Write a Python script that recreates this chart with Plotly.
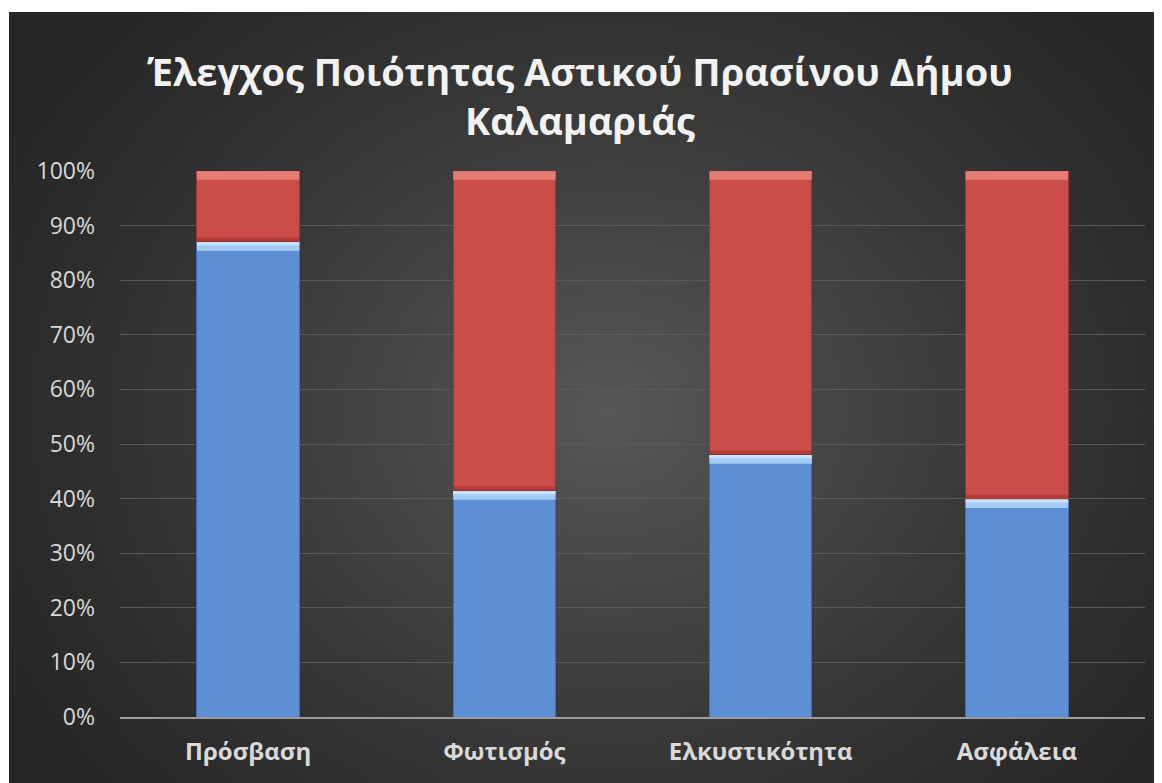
import base64, zlib, struct
import numpy as np
import plotly.graph_objects as go

categories = ["Πρόσβαση", "Φωτισμός", "Ελκυστικότητα", "Ασφάλεια"]
blue_values = [87.0, 41.4, 48.0, 39.9]
red_values = [13.0, 58.6, 52.0, 60.1]
tick_vals = [0, 10, 20, 30, 40, 50, 60, 70, 80, 90, 100]
tick_text = ["0%", "10%", "20%", "30%", "40%", "50%", "60%", "70%", "80%", "90%", "100%"]
title_text = "Έλεγχος Ποιότητας Αστικού Πρασίνου Δήμου<br>Καλαμαριάς"

# page body has an 8px margin, so the figure is 8px smaller than the window
W, H = 1154, 775
L, R, T, B = 112, 17, 163, 66
pw, ph = W - L - R, H - T - B
DX, DY = 1, 4  # top-left of dark panel in figure px


def png_data_uri(arr):
    h, w, _ = arr.shape
    raw = b"".join(b"\x00" + arr[i].tobytes() for i in range(h))
    def chunk(tag, data):
        c = struct.pack(">I", len(data)) + tag + data
        return c + struct.pack(">I", zlib.crc32(tag + data) & 0xffffffff)
    png = b"\x89PNG\r\n\x1a\n" + chunk(b"IHDR", struct.pack(">IIBBBBB", w, h, 8, 2, 0, 0, 0))
    png += chunk(b"IDAT", zlib.compress(raw, 9)) + chunk(b"IEND", b"")
    return "data:image/png;base64," + base64.b64encode(png).decode()


gw, gh = 290, 192
yy, xx = np.mgrid[0:gh, 0:gw]
dx = (xx / (gw - 1) - 0.52) / 0.62
dy = (yy / (gh - 1) - 0.52) / 0.78
r = np.clip(np.sqrt(dx ** 2 + dy ** 2), 0, 1)
val = 38 + (88 - 38) * (1 - r) ** 1.25
bg = np.repeat(val[:, :, None], 3, axis=2).astype(np.uint8)
bg_uri = png_data_uri(bg)

fig = go.Figure()
fig.add_trace(go.Bar(x=categories, y=blue_values, name="Ναι",
                     marker=dict(color="#5e8fd4", line=dict(color="#3d6cb0", width=1))))
fig.add_trace(go.Bar(x=categories, y=red_values, name="Όχι",
                     marker=dict(color="#ca4d4a", line=dict(color="#9e3431", width=1))))

# bevel highlights computed from the data
bw = 0.4
shapes = []
for i, (b, rv) in enumerate(zip(blue_values, red_values)):
    x0, x1 = i - bw / 2, i + bw / 2
    top = b + rv
    shapes.append(dict(type="rect", xref="x", yref="y", x0=x0, x1=x1, y0=b - 1.6, y1=b,
                       fillcolor="rgba(175,215,250,0.85)", line=dict(width=0), layer="above"))
    shapes.append(dict(type="rect", xref="x", yref="y", x0=x0, x1=x1, y0=b - 0.6, y1=b,
                       fillcolor="rgba(200,230,255,0.9)", line=dict(width=0), layer="above"))
    shapes.append(dict(type="rect", xref="x", yref="y", x0=x0, x1=x1, y0=top - 1.6, y1=top,
                       fillcolor="rgba(240,140,135,0.75)", line=dict(width=0), layer="above"))
    shapes.append(dict(type="rect", xref="x", yref="y", x0=x0, x1=x1, y0=b, y1=b + 0.8,
                       fillcolor="rgba(120,20,20,0.3)", line=dict(width=0), layer="above"))

fig.update_layout(
    width=W, height=H,
    margin=dict(l=L, r=R, t=T, b=B, pad=0),
    paper_bgcolor="white",
    plot_bgcolor="rgba(0,0,0,0)",
    barmode="stack",
    bargap=0.6,
    showlegend=False,
    shapes=shapes,
    images=[dict(source=bg_uri, xref="paper", yref="paper",
                 x=(DX - L) / pw, y=(H - B - DY) / ph,
                 sizex=(W - DX) / pw, sizey=(H - DY) / ph,
                 xanchor="left", yanchor="top", sizing="stretch", layer="below")],
    title=dict(text="<b>" + title_text + "</b>", x=(580 - 8) / W, xref="container", xanchor="center",
               y=1 - 78 / H, yref="container", yanchor="top",
               font=dict(family="Open Sans", size=38, color="#f2f2f2")),
    font=dict(family="Open Sans", color="#d9d9d9"),
    xaxis=dict(type="category", showgrid=False, showline=True, linecolor="#9a9a9a", linewidth=2,
               ticks="", tickfont=dict(family="Open Sans", size=24, color="#d9d9d9", weight="bold"),
               ticklabelstandoff=12, range=[-0.5, 3.5]),
    yaxis=dict(range=[0, 100], tickvals=tick_vals, ticktext=tick_text, showgrid=True,
               gridcolor="#5a5a5a", gridwidth=1, zeroline=False, showline=False, ticks="",
               tickfont=dict(family="Open Sans", size=23, color="#d9d9d9"), ticklabelstandoff=24),
)

fig.write_html("out.html")
